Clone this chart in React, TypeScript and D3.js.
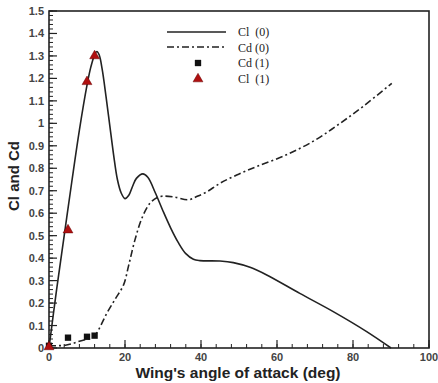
import React from "react";
import * as d3 from "d3";

const clAngles = [0, 2, 4, 6, 8, 10, 11, 12, 12.6, 13.2, 14, 15, 16, 17, 18, 19, 20, 21, 22, 23, 24.7, 26, 28, 30, 32, 34, 36, 38, 39.7, 45, 48.5, 52.9, 57.3, 66, 74.8, 83.6, 90];
const clValues = [0, 0.26, 0.5, 0.74, 0.97, 1.17, 1.25, 1.305, 1.32, 1.305, 1.24, 1.12, 0.99, 0.86, 0.75, 0.69, 0.665, 0.68, 0.72, 0.755, 0.775, 0.76, 0.69, 0.61, 0.535, 0.47, 0.42, 0.395, 0.389, 0.387, 0.38, 0.359, 0.325, 0.243, 0.162, 0.073, 0];

const cdAngles = [0, 4.6, 8, 11.7, 13, 15.2, 17.5, 19.6, 21, 22.6, 24.5, 26.6, 28.5, 30, 33, 36.7, 39, 41.5, 45, 49.4, 55, 62.5, 70, 76.6, 83, 90.2];
const cdValues = [0.01, 0.013, 0.03, 0.05, 0.08, 0.154, 0.22, 0.28, 0.37, 0.48, 0.58, 0.645, 0.67, 0.676, 0.672, 0.66, 0.675, 0.695, 0.733, 0.77, 0.81, 0.86, 0.925, 1.0, 1.08, 1.178];

const cd1Angles = [0, 5, 10, 12];
const cd1Values = [0.01, 0.046, 0.05, 0.055];
const cl1Angles = [0, 5, 10, 12];
const cl1Values = [0.005, 0.525, 1.185, 1.3];

const xTicks = [0, 20, 40, 60, 80, 100];
const yTicks = [0, 0.1, 0.2, 0.3, 0.4, 0.5, 0.6, 0.7, 0.8, 0.9, 1, 1.1, 1.2, 1.3, 1.4, 1.5];
const legendLabels = ["Cl  (0)", "Cd (0)", "Cd (1)", "Cl  (1)"];

export default function App() {
  const W = 438, H = 383;
  const L = 49, R = 429, T = 11, B = 348;
  const x = d3.scaleLinear().domain([0, 100]).range([L, R]);
  const y = d3.scaleLinear().domain([0, 1.5]).range([B, T]);

  const line = d3.line<[number, number]>()
    .x(d => x(d[0]))
    .y(d => y(d[1]))
    .curve(d3.curveCatmullRom.alpha(0.5));

  const clPath = line(clAngles.map((a, i) => [a, clValues[i]]));
  const cdPath = line(cdAngles.map((a, i) => [a, cdValues[i]]));

  const xMinor = d3.range(0, 100.001, 4);
  const yMinor = d3.range(0, 1.5001, 0.02);
  const sans = "'Liberation Sans', Arial, sans-serif";
  const serif = "'Liberation Serif', 'Times New Roman', serif";
  const tri = d3.symbol().type(d3.symbolTriangle).size(42)();
  const sq = d3.symbol().type(d3.symbolSquare).size(40)();

  return (
    <svg width={W} height={H} style={{ position: "absolute", left: 0, top: 0, background: "#fff" }}>
      <rect x={0} y={0} width={W} height={H} fill="#fff" />
      {xMinor.map((t, i) => (
        <line key={"xm" + i} x1={x(t)} x2={x(t)} y1={B} y2={B - 4} stroke="#222" strokeWidth={1} />
      ))}
      {xTicks.map((t, i) => (
        <line key={"xM" + i} x1={x(t)} x2={x(t)} y1={B} y2={B - 8} stroke="#222" strokeWidth={1.2} />
      ))}
      {yMinor.map((t, i) => (
        <line key={"ym" + i} x1={L} x2={L + 4} y1={y(t)} y2={y(t)} stroke="#222" strokeWidth={1} />
      ))}
      {yTicks.map((t, i) => (
        <line key={"yM" + i} x1={L} x2={L + 8} y1={y(t)} y2={y(t)} stroke="#222" strokeWidth={1.2} />
      ))}
      <rect x={L} y={T} width={R - L} height={B - T} fill="none" stroke="#222" strokeWidth={1.6} />
      {xTicks.map((t, i) => (
        <text key={"xl" + i} x={x(t)} y={B + 13} textAnchor="middle" fontFamily={sans} fontWeight="bold" fontSize={11} fill="#444">
          {t}
        </text>
      ))}
      {yTicks.map((t, i) => (
        <text key={"yl" + i} x={L - 5} y={y(t) + 4} textAnchor="end" fontFamily={sans} fontWeight="bold" fontSize={11} fill="#444">
          {String(t)}
        </text>
      ))}
      <text x={238} y={378} textAnchor="middle" fontFamily={sans} fontWeight="bold" fontSize={15.5} fill="#222">
        Wing's angle of attack (deg)
      </text>
      <text transform={`translate(19,176) rotate(-90)`} textAnchor="middle" fontFamily={sans} fontWeight="bold" fontSize={15} fill="#222">
        Cl and Cd
      </text>
      <path d={cdPath || ""} fill="none" stroke="#222" strokeWidth={1.6} strokeDasharray="7,3,2,3" />
      <path d={clPath || ""} fill="none" stroke="#222" strokeWidth={1.6} />
      {cd1Angles.map((a, i) => (
        <path key={"cd1" + i} d={sq || ""} transform={`translate(${x(a)},${y(cd1Values[i])})`} fill="#111" />
      ))}
      {cl1Angles.map((a, i) => (
        <path key={"cl1" + i} d={tri || ""} transform={`translate(${x(a)},${y(cl1Values[i])})`} fill="#b01010" stroke="#600" strokeWidth={0.5} />
      ))}
      <line x1={167} x2={226} y1={32} y2={32} stroke="#222" strokeWidth={1.6} />
      <line x1={167} x2={226} y1={47} y2={47} stroke="#222" strokeWidth={1.6} strokeDasharray="7,3,2,3" />
      <path d={sq || ""} transform="translate(198,63)" fill="#111" />
      <path d={tri || ""} transform="translate(198,79)" fill="#b01010" stroke="#600" strokeWidth={0.5} />
      {legendLabels.map((s, i) => (
        <text key={"lg" + i} x={238} y={36 + i * 15.7} fontFamily={serif} fontSize={12} fill="#222" style={{ whiteSpace: "pre" }}>
          {s}
        </text>
      ))}
    </svg>
  );
}
